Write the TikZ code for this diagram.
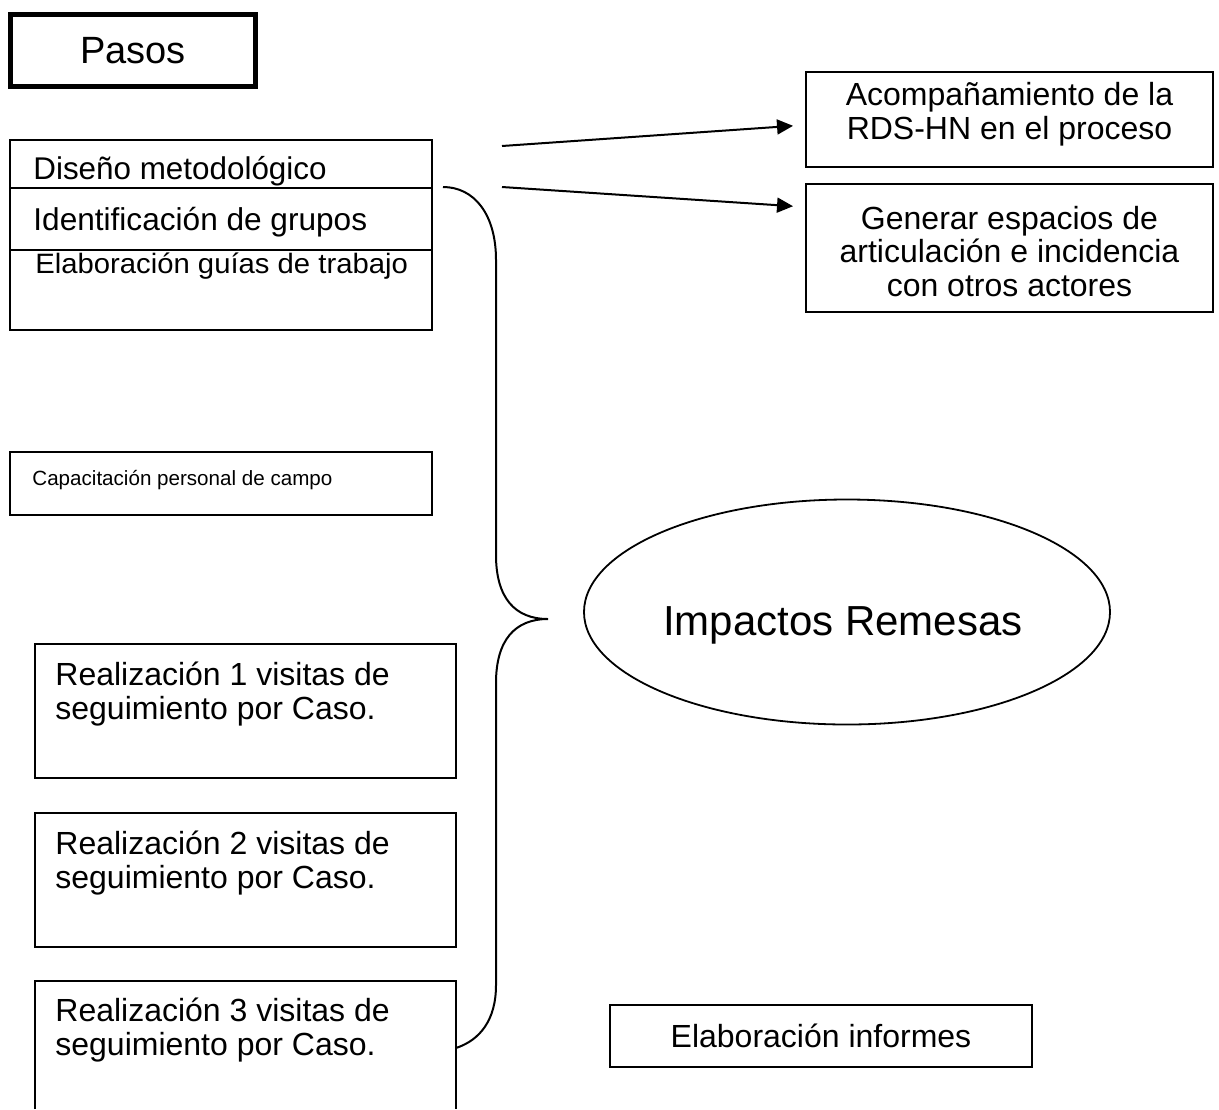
\documentclass[tikz,border=0pt]{standalone}
\usepackage{fontspec}
\setmainfont{Liberation Sans}
\newfontfamily\widesans[FakeStretch=1.045]{Liberation Sans}
\usetikzlibrary{arrows.meta,shapes.geometric}
\tikzset{
  box/.style={draw, line width=1pt, rectangle, inner sep=0pt},
  lbl/.style={anchor=base west, inner sep=0pt},
  clbl/.style={anchor=base, inner sep=0pt},
  arr/.style={line width=1pt, -{Triangle[length=8pt,width=7.5pt]}},
  curly/.style={line width=1pt},
  big/.style={font=\fontsize{16}{16.8}\selectfont},
}
\begin{document}
\begin{tikzpicture}[x=0.5pt,y=-0.5pt]
\useasboundingbox (0,0) rectangle (1219,1109);

% Pasos
\node[draw, line width=2.5pt, minimum width=122.5pt, minimum height=36pt, inner sep=0pt,
      font=\fontsize{19}{22}\selectfont] (pasos) at (133,50.5) {Pasos};

% stacked boxes
\node[box, minimum width=211pt, minimum height=24pt] (d1) at (221,164) {};
\node[box, minimum width=211pt, minimum height=31pt] (d2) at (221,219) {};
\node[box, minimum width=211pt, minimum height=40pt] (d3) at (221,290) {};
\node[lbl, font=\fontsize{15.7}{18}\selectfont] (t1) at (33,179) {Diseño metodológico};
\node[lbl, font=\fontsize{15.8}{18}\selectfont] (t2) at (33,230) {Identificación de grupos};
\node[lbl, font=\widesans\fontsize{14}{16}\selectfont] (t3) at (35,273) {Elaboración guías de trabajo};

% capacitacion
\node[box, minimum width=211pt, minimum height=31.5pt] (cap) at (221,483.5) {};
\node[lbl, font=\fontsize{10.3}{12}\selectfont] (capt) at (32,485) {Capacitación personal de campo};

% right boxes
\node[box, minimum width=203.5pt, minimum height=47.5pt] (acomp) at (1009.5,119.5) {};
\node[clbl, big] (acompa) at (1009.5,105) {Acompañamiento de la};
\node[clbl, big] (acompb) at (1009.5,139) {RDS-HN en el proceso};

\node[box, minimum width=203.5pt, minimum height=64pt] (gen) at (1009.5,248) {};
\node[clbl, big] (gena) at (1009.5,229) {Generar espacios de};
\node[clbl, big] (genb) at (1009.5,262.5) {articulación e incidencia};
\node[clbl, big] (genc) at (1009.5,296) {con otros actores};

% arrows
\coordinate (s1) at (502,146);
\coordinate (s2) at (502,187);
\coordinate (y1) at (0,125);
\coordinate (y2) at (0,207);
\draw[arr, shorten >=6pt] (s1) -- (acomp.west |- y1);
\draw[arr, shorten >=6pt] (s2) -- (gen.west |- y2);

% ellipse
\node[draw, ellipse, line width=0.9pt, minimum width=263pt, minimum height=112.5pt, inner sep=0pt] (imp) at (847,612) {};
\node[clbl, font=\fontsize{21}{24}\selectfont] (impt) at (843,635) {Impactos Remesas};

% realizacion boxes
\node[box, minimum width=210.5pt, minimum height=67pt] (r1) at (245.5,711) {};
\node[lbl, big] (r1a) at (55,685) {Realización 1 visitas de};
\node[lbl, big] (r1b) at (55,719) {seguimiento por Caso.};

\node[box, minimum width=210.5pt, minimum height=67pt] (r2) at (245.5,880) {};
\node[lbl, big] (r2a) at (55,854) {Realización 2 visitas de};
\node[lbl, big] (r2b) at (55,888) {seguimiento por Caso.};

\coordinate (r3bl) at (35,1109);
\coordinate (r3tl) at (35,981);
\coordinate (r3tr) at (456,981);
\coordinate (r3br) at (456,1109);
\draw[line width=1pt] (r3bl) -- (r3tl) -- (r3tr) -- (r3br);
\node[lbl, big] (r3a) at (55,1021) {Realización 3 visitas de};
\node[lbl, big] (r3b) at (55,1055) {seguimiento por Caso.};

% informes
\node[box, big, minimum width=211pt, minimum height=31pt] (inf) at (821,1036) {Elaboración informes};

% brace
\coordinate (bt) at (443,187);
\coordinate (btip) at (548,619);
\coordinate (bb) at (456,1048);
\draw[curly] (bt) .. controls (474,187) and (496,214) .. (496,260)
  -- (496,555) .. controls (496,598) and (515,619) .. (btip)
  .. controls (515,619) and (496,640) .. (496,683)
  -- (496,985) .. controls (496,1020) and (480,1040) .. (bb);
\end{tikzpicture}
\end{document}
